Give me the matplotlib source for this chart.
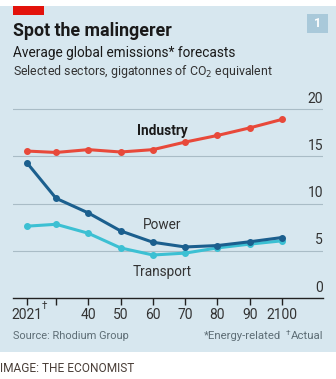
import matplotlib.pyplot as plt

# data
years = [2021, 2030, 2040, 2050, 2060, 2070, 2080, 2090, 2100]
industry = [15.55, 15.4, 15.7, 15.45, 15.7, 16.5, 17.2, 18.0, 18.9]
power = [14.3, 10.55, 9.0, 7.1, 5.9, 5.4, 5.55, 5.95, 6.4]
transport = [7.6, 7.8, 6.85, 5.3, 4.55, 4.75, 5.3, 5.7, 6.05]
xtick_labels = ['2021', '', '40', '50', '60', '70', '80', '90', '2100']
ytick_vals = [0, 5, 10, 15, 20]

W, H = 336, 379
BG = '#d7e7ef'
RED = '#e8493a'
DARK = '#1b5f8e'
CYAN = '#3cc0d3'
GRID = '#a9bcc6'
TXT = '#1a1a1a'
GREY = '#5e6e76'

plt.rcParams['font.family'] = ['Roboto', 'DejaVu Sans']

fig = plt.figure(figsize=(W / 100, H / 100), dpi=100)
fig.patch.set_facecolor('white')

def px(x, y):
    return x / W, 1 - y / H

# background panel
fig.patches.append(plt.Rectangle(px(0, 352), 1, 346 / H, transform=fig.transFigure,
                                 facecolor=BG, edgecolor='none', zorder=-10))
# red tab
fig.patches.append(plt.Rectangle(px(13, 15), 31 / W, 9 / H, transform=fig.transFigure,
                                 facecolor='#e3120b', edgecolor='none', zorder=-5))
# number box
fig.patches.append(plt.Rectangle(px(307, 33), 21 / W, 19 / H, transform=fig.transFigure,
                                 facecolor='#a9c9da', edgecolor='none', zorder=-5))
fig.text(*px(317.5, 23.5), '1', color='white', fontsize=9, fontweight='bold',
         ha='center', va='center')

fig.text(*px(13, 31), 'Spot the malingerer', fontsize=12.8, fontweight='bold',
         color=TXT, va='center')
fig.text(*px(13, 53), 'Average global emissions* forecasts', fontsize=9.8,
         color=TXT, va='center')
fig.text(*px(13, 72), 'Selected sectors, gigatonnes of CO$_2$ equivalent', fontsize=8.9,
         color='#333333', va='center')

# axes: left 13px, right 323px, bottom 298px, top 100px
ax = fig.add_axes([13 / W, 1 - 298 / H, 310 / W, 198 / H])
ax.set_zorder(5)
ax.set_facecolor('none')
ppy = (282 - 27) / (2100 - 2021)
ax.set_xlim(2021 - 14 / ppy, 2100 + 41 / ppy)
ax.set_ylim(0, 198 / 9.45)

for v in ytick_vals[1:]:
    ax.axhline(v, color=GRID, lw=0.8, zorder=1)
for v in ytick_vals:
    ax.text(1, v + 0.35, str(v), transform=ax.get_yaxis_transform(), ha='right',
            va='bottom', fontsize=10, color='#333333')

ax.plot(years, industry, color=RED, lw=2.2, marker='o', ms=4, zorder=3)
ax.plot(years, transport, color=CYAN, lw=2.2, marker='o', ms=4, zorder=3)
ax.plot(years, power, color=DARK, lw=2.2, marker='o', ms=4, zorder=4)

ax.text(2063, 17.7, 'Industry', fontsize=9.8, fontweight='bold', color=TXT,
        ha='center', va='center')
ax.text(2063, 7.7, 'Power', fontsize=9.8, color='#333333', ha='center', va='center')
ax.text(2063, 2.75, 'Transport', fontsize=9.8, color='#333333', ha='center', va='center')

for s in ['left', 'right', 'top']:
    ax.spines[s].set_visible(False)
ax.spines['bottom'].set_color('#222222')
ax.spines['bottom'].set_linewidth(1.0)
ax.set_yticks([])
ax.set_xticks(years)
ax.set_xticklabels(xtick_labels, fontsize=10, color='#333333')
ax.tick_params(axis='x', length=5, width=1, color='#222222', pad=2)
# dagger after 2021
ax.text(years[0] + 15 / ppy, -0.04, '\u2020', transform=ax.get_xaxis_transform(),
        fontsize=7, color='#333333', ha='left', va='center')

fig.text(*px(13, 336), 'Source: Rhodium Group', fontsize=7.9, color=GREY, va='center')
fig.text(*px(323, 336), 'Actual', fontsize=8.2, color=GREY, va='center', ha='right')
fig.text(*px(290, 333), '\u2020', fontsize=6, color=GREY, va='center', ha='right')
fig.text(*px(281, 336), '*Energy-related', fontsize=8.2, color=GREY, va='center', ha='right')
fig.text(*px(0, 368), 'IMAGE: THE ECONOMIST', fontsize=8.6, color='#4a3f38', va='center')

fig.savefig('out.png', dpi=100, facecolor='white')
